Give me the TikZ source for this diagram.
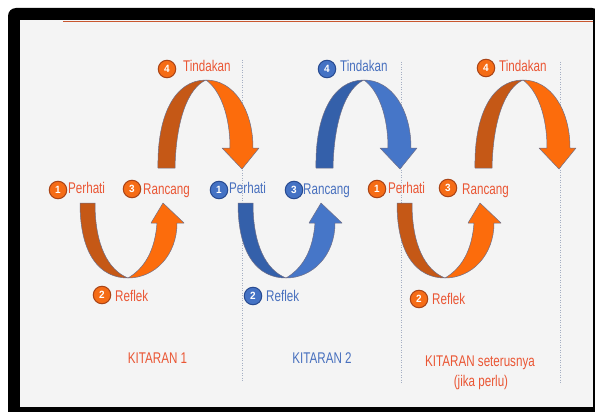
\documentclass[tikz,border=0pt]{standalone}
\usepackage{fontspec}
\setmainfont{Liberation Sans}[FakeStretch=0.75]
\newfontfamily\numfont{Liberation Sans}[FakeStretch=0.95]
\definecolor{oDark}{RGB}{197,88,22}
\definecolor{oLight}{RGB}{252,108,12}
\definecolor{bDark}{RGB}{52,96,170}
\definecolor{bLight}{RGB}{70,118,200}
\definecolor{oText}{RGB}{234,86,52}
\definecolor{bText}{RGB}{72,112,190}
\definecolor{oFill}{RGB}{245,108,22}
\definecolor{bFill}{RGB}{68,114,196}
\definecolor{oBorder}{RGB}{170,68,22}
\definecolor{bBorder}{RGB}{40,75,145}
\definecolor{edgec}{RGB}{110,110,135}
\definecolor{bgc}{RGB}{244,244,244}
\definecolor{dotc}{RGB}{165,175,195}
\definecolor{toplinec}{RGB}{200,85,45}
\newcommand\mycycle[2]{%
  \filldraw[fill=#1, shape edge] (80,203) .. controls (80,255) and (100,278) .. (128,278)
     .. controls (108,270) and (95,245) .. (95,203) -- cycle;
  \filldraw[fill=#2, shape edge] (128,278) .. controls (155,278) and (177,255) .. (177,223)
     -- (184,223) -- (163,203) -- (151,223) -- (157,223)
     .. controls (155,250) and (145,268) .. (128,278) -- cycle;
  \filldraw[fill=#1, shape edge] (158,168) .. controls (157,115) and (175,80) .. (206,80)
     .. controls (188,88) and (176,120) .. (175,168) -- cycle;
  \filldraw[fill=#2, shape edge] (206,80) .. controls (234,80) and (253,110) .. (253,148)
     -- (259,148) -- (242,169) -- (222,148) -- (230,148)
     .. controls (230,115) and (220,90) .. (206,80) -- cycle;
}
\tikzset{
  shape edge/.style={draw=edgec, line width=0.5pt, line join=round},
  lbl/.style={anchor=base west, inner sep=0pt, font=\fontsize{15.5}{17}\selectfont},
  clbl/.style={anchor=base, inner sep=0pt, font=\fontsize{15.5}{17}\selectfont},
  numc/.style={circle, minimum size=17.5pt, inner sep=0pt, line width=1pt,
    font=\numfont\fontsize{10.5}{11}\selectfont\bfseries, text=white},
  ocirc/.style={numc, fill=oFill, draw=oBorder},
  bcirc/.style={numc, fill=bFill, draw=bBorder},
  dotline/.style={draw=dotc, line width=0.8pt, dash pattern=on 1pt off 1.5pt}
}
\begin{document}
\begin{tikzpicture}[x=1pt, y=-1pt]
\useasboundingbox (0,0) rectangle (595,412);
\fill[white] (0,0) rectangle (595,412);
% frame
\fill[black, rounded corners=8pt] (8,8) rectangle (600,420);
\fill[bgc] (20,20) rectangle (593,406.5);
\draw[toplinec, line width=1.2pt] (63,21.3) -- (593,21.3);
% dotted separators
\draw[dotline] (242,60) -- (242,382);
\draw[dotline] (401,62) -- (401,384);
\draw[dotline] (560,62) -- (560,384);
% arrows
\mycycle{oDark}{oLight}
\begin{scope}[xshift=158pt]
\mycycle{bDark}{bLight}
\end{scope}
\begin{scope}[xshift=317pt]
\mycycle{oDark}{oLight}
\end{scope}
% cycle 1 labels
\node[ocirc] (c1n1) at (58,190) {1};
\node[lbl, text=oText] (c1t1) at (68,193) {Perhati};
\node[ocirc] (c1n2) at (102,295) {2};
\node[lbl, text=oText] (c1t2) at (115,301) {Reflek};
\node[ocirc] (c1n3) at (132,189) {3};
\node[lbl, text=oText] (c1t3) at (143,194) {Rancang};
\node[ocirc] (c1n4) at (167,69) {4};
\node[lbl, text=oText] (c1t4) at (183,72) {Tindakan};
% cycle 2 labels
\node[bcirc] (c2n1) at (219,190) {1};
\node[lbl, text=bText] (c2t1) at (229,193) {Perhati};
\node[bcirc] (c2n2) at (253,296) {2};
\node[lbl, text=bText] (c2t2) at (266,301) {Reflek};
\node[bcirc] (c2n3) at (294,190) {3};
\node[lbl, text=bText] (c2t3) at (303,194) {Rancang};
\node[bcirc] (c2n4) at (327,69) {4};
\node[lbl, text=bText] (c2t4) at (340,72) {Tindakan};
% cycle 3 labels
\node[ocirc] (c3n1) at (377,189) {1};
\node[lbl, text=oText] (c3t1) at (388,193) {Perhati};
\node[ocirc] (c3n2) at (419,299) {2};
\node[lbl, text=oText] (c3t2) at (432,304) {Reflek};
\node[ocirc] (c3n3) at (448,188) {3};
\node[lbl, text=oText] (c3t3) at (462,194) {Rancang};
\node[ocirc] (c3n4) at (486,68) {4};
\node[lbl, text=oText] (c3t4) at (499,72) {Tindakan};
% cycle titles
\node[clbl, text=oText] (k1) at (157.5,363) {KITARAN 1};
\node[clbl, text=bText] (k2) at (322,363) {KITARAN 2};
\node[clbl, text=oText] (k3) at (480,366) {KITARAN seterusnya};
\node[clbl, text=oText] (k3b) at (481,386) {(jika perlu)};
\end{tikzpicture}
\end{document}
